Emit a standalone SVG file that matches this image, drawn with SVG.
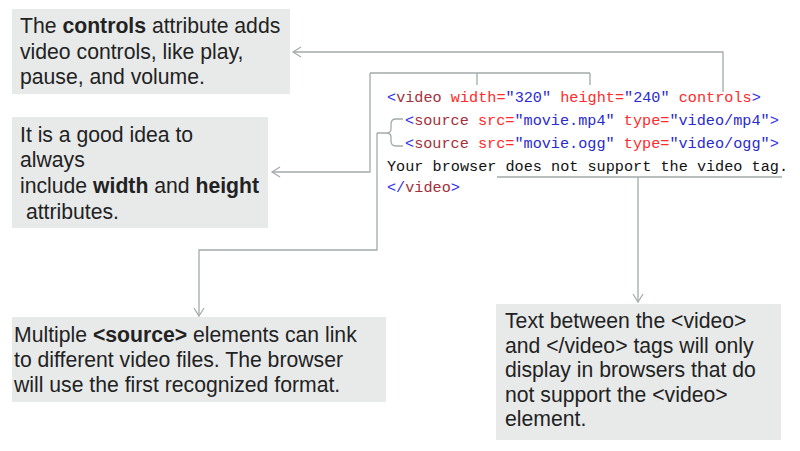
<svg xmlns="http://www.w3.org/2000/svg" width="800" height="451" viewBox="0 0 800 451">
<defs>
<marker id="arr" markerWidth="12" markerHeight="12" refX="10" refY="6" orient="auto" markerUnits="userSpaceOnUse">
<path d="M2,1 L10,6 L2,11" fill="none" stroke="#a3aaaa" stroke-width="1.2"/>
</marker>
</defs>
<style>
.box{fill:#e8eaea}
.t{font-family:"Liberation Sans",Arial,sans-serif;font-size:21.2px;fill:#222}
.b{font-weight:bold}
.c{font-family:"Liberation Mono","DejaVu Sans Mono",monospace;font-size:15.2px;fill:#111}
.tg{fill:#3333ee}
.nm{fill:#a3303a}
.at{fill:#ff2a2a}
.v{fill:#2a2ad0}
.ln{fill:none;stroke:#a3aaaa;stroke-width:1.3}
</style>
<rect width="800" height="451" fill="#ffffff"/>
<g id="code">
<text class="c" x="387" y="102"><tspan class="tg">&lt;</tspan><tspan class="nm">video</tspan> <tspan class="at">width=</tspan><tspan class="v">"320"</tspan> <tspan class="at">height=</tspan><tspan class="v">"240"</tspan> <tspan class="at">controls</tspan><tspan class="tg">&gt;</tspan></text>
<text class="c" x="405" y="125"><tspan class="tg">&lt;</tspan><tspan class="nm">source</tspan> <tspan class="at">src=</tspan><tspan class="v">"movie.mp4"</tspan> <tspan class="at">type=</tspan><tspan class="v">"video/mp4"</tspan><tspan class="tg">&gt;</tspan></text>
<text class="c" x="405" y="148"><tspan class="tg">&lt;</tspan><tspan class="nm">source</tspan> <tspan class="at">src=</tspan><tspan class="v">"movie.ogg"</tspan> <tspan class="at">type=</tspan><tspan class="v">"video/ogg"</tspan><tspan class="tg">&gt;</tspan></text>
<text class="c" x="387" y="171">Your browser does not support the video tag.</text>
<text class="c" x="387" y="192"><tspan class="tg">&lt;/</tspan><tspan class="nm">video</tspan><tspan class="tg">&gt;</tspan></text>
</g>
<g id="n-controls">
<rect class="box" x="12" y="9" width="278" height="85"/>
<text class="t" x="20" y="33">The <tspan class="b">controls</tspan> attribute adds</text>
<text class="t" x="20" y="59">video controls, like play,</text>
<text class="t" x="20" y="84">pause, and volume.</text>
</g>
<g id="n-size">
<rect class="box" x="12" y="117" width="256" height="111"/>
<text class="t" x="20" y="142">It is a good idea to</text>
<text class="t" x="20" y="167">always</text>
<text class="t" x="20" y="193">include <tspan class="b">width</tspan> and <tspan class="b">height</tspan></text>
<text class="t" x="20" y="219" xml:space="preserve"> attributes.</text>
</g>
<g id="n-source">
<rect class="box" x="12" y="317" width="374" height="85"/>
<text class="t" x="14" y="342">Multiple <tspan class="b">&lt;source&gt;</tspan> elements can link</text>
<text class="t" x="14" y="367">to different video files. The browser</text>
<text class="t" x="14" y="392">will use the first recognized format.</text>
</g>
<g id="n-text">
<rect class="box" x="496" y="304" width="285" height="136"/>
<text class="t" x="505" y="328">Text between the &lt;video&gt;</text>
<text class="t" x="505" y="353">and &lt;/video&gt; tags will only</text>
<text class="t" x="505" y="377">display in browsers that do</text>
<text class="t" x="505" y="402">not support the &lt;video&gt;</text>
<text class="t" x="505" y="426">element.</text>
</g>
<g id="connectors">
<path class="ln" d="M723,92 V52 H293" marker-end="url(#arr)"/>
<path class="ln" d="M477,85 V73 M590,85 V73 M370,73 H590"/>
<path class="ln" d="M370,73 V172 H272" marker-end="url(#arr)"/>
<path class="ln" d="M403,119 H396 Q391,119 391,124 V129 Q391,133 386,133 H377 M386,133 Q391,133 391,137 V141 Q391,146 396,146 H403"/>
<path class="ln" d="M377,133 V250 H199 V316" marker-end="url(#arr)"/>
<path class="ln" d="M497,177 H782 M638,177 V302" marker-end="url(#arr)"/>
</g>
</svg>
